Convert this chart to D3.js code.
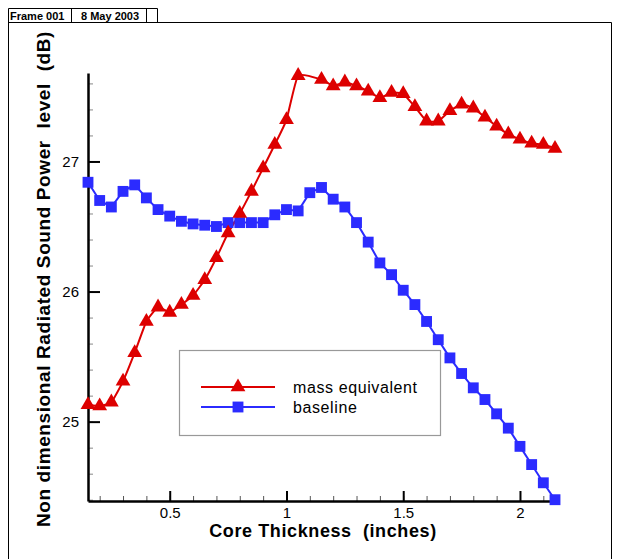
<!DOCTYPE html>
<html>
<head>
    <script src="https://cdnjs.cloudflare.com/ajax/libs/d3/7.8.5/d3.min.js"></script>
</head>

<style>
body {
    margin: 0;
    background: #fff;
}
text {
    font-family: "Liberation Sans", Arial, sans-serif;
}
</style>

<body>
    <svg id="canvas"></svg>

<script>

// data, core thickness in inches
const thickness = [0.15, 0.2, 0.25, 0.3, 0.35, 0.4, 0.45, 0.5, 0.55, 0.6,
	0.65, 0.7, 0.75, 0.8, 0.85, 0.9, 0.95, 1.0, 1.05, 1.1,
	1.15, 1.2, 1.25, 1.3, 1.35, 1.4, 1.45, 1.5, 1.55, 1.6,
	1.65, 1.7, 1.75, 1.8, 1.85, 1.9, 1.95, 2.0, 2.05, 2.1, 2.15];

const baseline = [26.84, 26.70, 26.65, 26.77, 26.82, 26.72, 26.63, 26.58, 26.54, 26.52,
	26.51, 26.50, 26.53, 26.53, 26.53, 26.53, 26.59, 26.63, 26.62, 26.76,
	26.80, 26.71, 26.65, 26.53, 26.38, 26.22, 26.13, 26.01, 25.90, 25.77,
	25.63, 25.49, 25.37, 25.26, 25.17, 25.06, 24.95, 24.81, 24.67, 24.53, 24.40];

// no marker at 1.1 in the original
const massEquivalent = [25.13, 25.12, 25.15, 25.31, 25.53, 25.77, 25.88, 25.84, 25.90, 25.97,
	26.09, 26.26, 26.45, 26.60, 26.77, 26.95, 27.13, 27.32, 27.66, null,
	27.63, 27.58, 27.61, 27.58, 27.54, 27.49, 27.53, 27.52, 27.42, 27.31,
	27.31, 27.39, 27.44, 27.41, 27.34, 27.27, 27.21, 27.17, 27.14, 27.13, 27.10];

const seriesNames = ['mass equivalent', 'baseline'];
const xMajor = [0.5, 1, 1.5, 2];
const yMajor = [25, 26, 27];
const xMinor = d3.range(2, 22).map(d => d / 10);
const yMinor = d3.range(122, 139).map(d => d / 5);

const width = 618, height = 559;
const RED = '#dd0000', BLUE = '#2b2bff';

const svg = d3.select('svg#canvas')
	.attr('width', width)
	.attr('height', height);

// frame and header strip
const frame = svg.append('g')
	.attr('fill', 'none')
	.attr('stroke', '#000')
	.attr('stroke-width', 1);
frame.append('path').attr('d', 'M8.5,559V8.5H157.5V22.5');
frame.append('path').attr('d', 'M8.5,22.5H611.5V559');
frame.append('path').attr('d', 'M71.5,8.5V22.5M146.5,8.5V22.5');

svg.append('text').attr('x', 10).attr('y', 19.5)
	.attr('font-size', 11).attr('font-weight', 'bold')
	.text('Frame 001');
svg.append('text').attr('x', 81).attr('y', 19.5)
	.attr('font-size', 11).attr('font-weight', 'bold')
	.text('8 May 2003');

// scales
const x = d3.scaleLinear().domain([0.15, 2.15]).range([88, 555]);
const y = d3.scaleLinear().domain([24.39, 27.68]).range([501, 73]);

// minor ticks
svg.append('g')
	.attr('transform', 'translate(0,501)')
	.call(d3.axisBottom(x).tickValues(xMinor).tickSizeInner(-5).tickSizeOuter(0).tickFormat(''))
	.call(g => g.select('.domain').remove())
	.call(g => g.selectAll('line').attr('stroke', '#555'));
svg.append('g')
	.attr('transform', 'translate(88,0)')
	.call(d3.axisLeft(y).tickValues(yMinor).tickSizeInner(-5).tickSizeOuter(0).tickFormat(''))
	.call(g => g.select('.domain').remove())
	.call(g => g.selectAll('line').attr('stroke', '#888'));

// major axes
const xAxis = svg.append('g')
	.attr('transform', 'translate(0,501)')
	.call(d3.axisBottom(x).tickValues(xMajor).tickSizeInner(-10).tickSizeOuter(0)
		.tickPadding(6).tickFormat(d3.format('')));
const yAxis = svg.append('g')
	.attr('transform', 'translate(88,0)')
	.call(d3.axisLeft(y).tickValues(yMajor).tickSizeInner(-12).tickSizeOuter(0)
		.tickPadding(9).tickFormat(d3.format('')));

[xAxis, yAxis].forEach(g => {
	g.select('.domain').attr('stroke', '#000').attr('stroke-width', 2.5);
	g.selectAll('.tick line').attr('stroke', '#000').attr('stroke-width', 2);
	g.selectAll('.tick text')
		.attr('font-family', '"Liberation Sans", Arial, sans-serif')
		.attr('font-size', 15)
		.attr('fill', '#000');
});

// axis titles
svg.append('text')
	.attr('x', 323).attr('y', 537)
	.attr('text-anchor', 'middle')
	.attr('font-size', 18).attr('font-weight', 'bold')
	.attr('letter-spacing', 0.6)
	.style('white-space', 'pre')
	.text('Core Thickness  (inches)');

svg.append('text')
	.attr('transform', 'translate(50,279) rotate(-90)')
	.attr('text-anchor', 'middle')
	.attr('font-size', 19).attr('font-weight', 'bold')
	.attr('letter-spacing', 0.6)
	.style('white-space', 'pre')
	.text('Non dimensional Radiated Sound Power  level  (dB)');

// series
const blueData = thickness.map((t, i) => ({ x: t, y: baseline[i] }));
const redData = thickness.map((t, i) => ({ x: t, y: massEquivalent[i] }))
	.filter(d => d.y !== null);

const plotG = svg.append('g');

plotG.append('path')
	.datum(blueData)
	.attr('fill', 'none')
	.attr('stroke', BLUE)
	.attr('stroke-width', 2)
	.attr('d', d3.line().x(d => x(d.x)).y(d => y(d.y)));

plotG.append('path')
	.datum(redData)
	.attr('fill', 'none')
	.attr('stroke', RED)
	.attr('stroke-width', 2)
	.attr('d', d3.line().x(d => x(d.x)).y(d => y(d.y)).curve(d3.curveCardinal.tension(0.55)));

const square = d3.symbol().type(d3.symbolSquare).size(118);
const triangle = d3.symbol().type(d3.symbolTriangle).size(95);

plotG.selectAll('path.sq')
	.data(blueData)
	.join('path')
	.classed('sq', true)
	.attr('transform', d => `translate(${x(d.x)},${y(d.y)})`)
	.attr('d', square)
	.attr('fill', BLUE);

plotG.selectAll('path.tri')
	.data(redData)
	.join('path')
	.classed('tri', true)
	.attr('transform', d => `translate(${x(d.x)},${y(d.y)})`)
	.attr('d', triangle)
	.attr('fill', RED);

// legend
const legend = svg.append('g');
legend.append('rect')
	.attr('x', 179.5).attr('y', 350.5)
	.attr('width', 261).attr('height', 85)
	.attr('fill', '#fff')
	.attr('stroke', '#999')
	.attr('stroke-width', 1.2);

const legendRows = [
	{ name: seriesNames[0], color: RED, sym: triangle, y: 387 },
	{ name: seriesNames[1], color: BLUE, sym: square, y: 407 }
];
legendRows.forEach(r => {
	legend.append('line')
		.attr('x1', 201).attr('x2', 275)
		.attr('y1', r.y).attr('y2', r.y)
		.attr('stroke', r.color).attr('stroke-width', 2);
	legend.append('path')
		.attr('transform', `translate(238,${r.y})`)
		.attr('d', r.sym)
		.attr('fill', r.color);
	legend.append('text')
		.attr('x', 293).attr('y', r.y + 5.5)
		.attr('font-size', 16)
		.attr('letter-spacing', 0.6)
		.text(r.name);
});

</script>
</body>
</html>
